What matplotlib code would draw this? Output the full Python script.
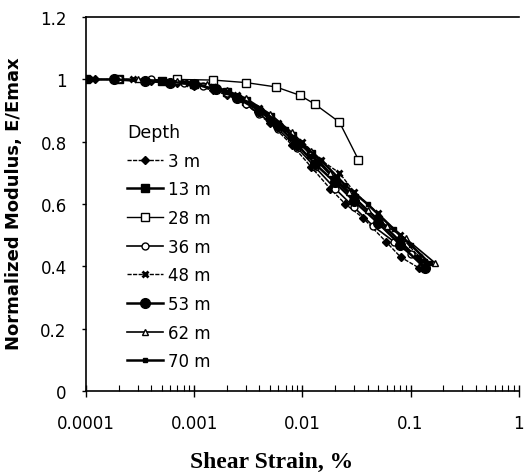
import matplotlib
matplotlib.use("Agg")
import matplotlib.pyplot as plt
from matplotlib.ticker import LogLocator, NullFormatter, FixedLocator

# --- data -----------------------------------------------------------------
x_3m = [0.00012, 0.0002, 0.0004, 0.0007, 0.001, 0.0015, 0.002, 0.003, 0.005,
        0.008, 0.012, 0.018, 0.025, 0.036, 0.059, 0.081, 0.12]
y_3m = [1.0, 1.0, 0.995, 0.99, 0.98, 0.965, 0.95, 0.92, 0.86,
        0.79, 0.72, 0.65, 0.60, 0.557, 0.48, 0.43, 0.395]

x_13m = [0.0001, 0.0002, 0.0005, 0.001, 0.002, 0.003, 0.005, 0.008, 0.012,
         0.02, 0.03, 0.05, 0.08, 0.13]
y_13m = [1.0, 1.0, 0.995, 0.985, 0.96, 0.93, 0.88, 0.82, 0.76,
         0.68, 0.62, 0.55, 0.48, 0.41]

x_28m = [0.0007, 0.0015, 0.003, 0.0057, 0.0095, 0.013, 0.022, 0.033]
y_28m = [1.0, 0.998, 0.99, 0.976, 0.949, 0.921, 0.863, 0.742]

x_36m = [0.0002, 0.0004, 0.0008, 0.0012, 0.002, 0.003, 0.004, 0.006, 0.009,
         0.013, 0.02, 0.03, 0.045, 0.07, 0.1, 0.13]
y_36m = [1.0, 1.0, 0.99, 0.98, 0.955, 0.92, 0.89, 0.84, 0.78,
         0.72, 0.65, 0.59, 0.53, 0.48, 0.44, 0.40]

x_48m = [0.000115, 0.00027, 0.0005, 0.0009, 0.0015, 0.0025, 0.004, 0.006,
         0.01, 0.015, 0.022, 0.03, 0.05, 0.08, 0.12]
y_48m = [1.0, 1.0, 0.995, 0.99, 0.975, 0.95, 0.91, 0.86,
         0.80, 0.74, 0.70, 0.64, 0.57, 0.50, 0.43]

x_53m = [0.00018, 0.00035, 0.0006, 0.001, 0.0016, 0.0025, 0.004, 0.006,
         0.009, 0.013, 0.02, 0.03, 0.05, 0.08, 0.137]
y_53m = [1.0, 0.995, 0.99, 0.985, 0.97, 0.94, 0.90, 0.85,
         0.79, 0.73, 0.67, 0.61, 0.54, 0.47, 0.395]

x_62m = [0.0003, 0.0007, 0.0013, 0.002, 0.003, 0.005, 0.008, 0.012, 0.018,
         0.027, 0.04, 0.06, 0.09, 0.17]
y_62m = [1.0, 0.995, 0.985, 0.965, 0.94, 0.89, 0.83, 0.77, 0.70,
         0.64, 0.58, 0.53, 0.49, 0.41]

x_70m = [0.0005, 0.001, 0.002, 0.004, 0.007, 0.01, 0.015, 0.025, 0.04,
         0.07, 0.1, 0.15]
y_70m = [0.995, 0.985, 0.96, 0.91, 0.84, 0.79, 0.74, 0.66, 0.60,
         0.52, 0.47, 0.41]

depth_labels = ["3 m", "13 m", "28 m", "36 m", "48 m", "53 m", "62 m", "70 m"]
y_ticks = [0, 0.2, 0.4, 0.6, 0.8, 1, 1.2]
y_tick_labels = ["0", "0.2", "0.4", "0.6", "0.8", "1", "1.2"]
x_ticks = [0.0001, 0.001, 0.01, 0.1, 1]
x_tick_labels = ["0.0001", "0.001", "0.01", "0.1", "1"]

series = [(x_3m, y_3m), (x_13m, y_13m), (x_28m, y_28m), (x_36m, y_36m),
          (x_48m, y_48m), (x_53m, y_53m), (x_62m, y_62m), (x_70m, y_70m)]

# marker, fill, size, line width, line style
styles = [
    dict(marker="D", mfc="black", ms=4, lw=1.0, ls=(0, (3, 1))),
    dict(marker="s", mfc="black", ms=6, lw=1.8, ls="-"),
    dict(marker="s", mfc="white", ms=6, lw=1.0, ls="-"),
    dict(marker="o", mfc="white", ms=5, lw=1.2, ls="-"),
    dict(marker="x", mfc="black", ms=5, lw=1.0, ls=(0, (3, 1)), mew=2),
    dict(marker="o", mfc="black", ms=7, lw=1.8, ls="-"),
    dict(marker="^", mfc="white", ms=5, lw=1.2, ls="-"),
    dict(marker="s", mfc="black", ms=3, lw=1.8, ls="-"),
]

plt.rcParams["font.family"] = ["DejaVu Sans"]

fig = plt.figure(figsize=(5.25, 4.77), dpi=100)
ax = fig.add_axes([0.164, 0.178, 0.824, 0.784])

for (xs, ys), lab, st in zip(series, depth_labels, styles):
    ax.plot(xs, ys, color="black", marker=st["marker"], mfc=st["mfc"],
            mec="black", ms=st["ms"], lw=st["lw"], ls=st["ls"],
            mew=st.get("mew", 1.0), label=lab)

ax.set_xscale("log")
ax.set_xlim(0.0001, 1)
ax.set_ylim(0, 1.2)

ax.xaxis.set_major_locator(FixedLocator(x_ticks))
ax.set_xticklabels(x_tick_labels, fontsize=12)
ax.xaxis.set_minor_locator(LogLocator(base=10, subs=range(2, 10)))
ax.xaxis.set_minor_formatter(NullFormatter())
ax.set_yticks(y_ticks)
ax.set_yticklabels(y_tick_labels, fontsize=12)

ax.tick_params(axis="x", which="major", direction="inout", length=9,
               width=1.0, pad=12)
ax.tick_params(axis="x", which="minor", direction="in", length=4, width=0.8)
ax.tick_params(axis="y", direction="out", length=3, width=1.0, pad=11)

ax.spines["right"].set_visible(False)
for side in ("left", "top", "bottom"):
    ax.spines[side].set_linewidth(1.2)

ax.set_ylabel("Normalized Modulus, E/Emax", fontsize=13, fontweight="bold")
ax.yaxis.set_label_coords(-0.145, 0.505)
ax.set_xlabel("Shear Strain, %", fontsize=17, fontweight="bold",
              family=["Liberation Serif", "DejaVu Serif"])
ax.xaxis.set_label_coords(0.43, -0.16)

leg = ax.legend(loc="upper left", bbox_to_anchor=(0.094, 0.717),
                frameon=False, borderpad=0, borderaxespad=0,
                title="Depth", fontsize=12, title_fontsize=12.5,
                handlelength=2.15, handletextpad=0.3, labelspacing=0.64,
                alignment="left")

fig.savefig("out.png", dpi=100)
